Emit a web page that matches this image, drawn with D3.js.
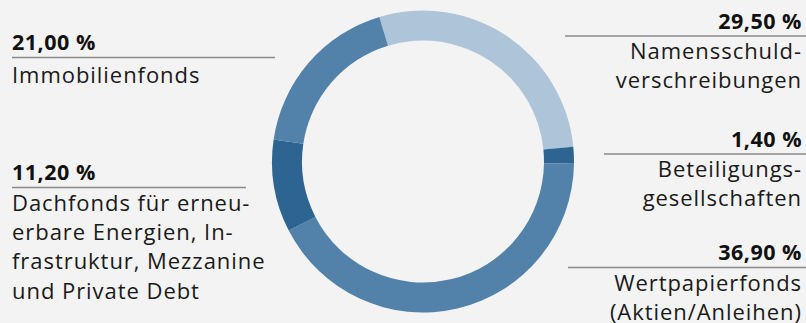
<!DOCTYPE html>
<html>
<head>
<meta charset="utf-8">
<script src="https://cdn.jsdelivr.net/npm/d3@7"></script>
<style>
  html, body { margin: 0; padding: 0; background: #f3f3f3; }
  svg { display: block; }
  .num { font-family: "Open Sans", sans-serif; font-weight: 700; font-size: 21.5px; letter-spacing: 0.5px; fill: #111; }
  .txt { font-family: "Open Sans", sans-serif; font-size: 22px; letter-spacing: 0.95px; fill: #1a1a1a; }
</style>
</head>
<body>
<div id="vis"></div>
<script>
// data
var categories = ["Namensschuldverschreibungen", "Beteiligungsgesellschaften", "Wertpapierfonds",
                  "Dachfonds", "Immobilienfonds"];
var percentLabels = [29.5, 1.4, 36.9, 11.2, 21.0];
// arc sizes as they are drawn in the picture (%)
var arcShares = [28.1, 1.8, 42.2, 9.9, 18.0];
var labelLines = [
    ["Namensschuld-", "verschreibungen"],
    ["Beteiligungs-", "gesellschaften"],
    ["Wertpapierfonds", "(Aktien/Anleihen)"],
    ["Dachfonds für erneu-", "erbare Energien, In-", "frastruktur, Mezzanine", "und Private Debt"],
    ["Immobilienfonds"]
];
var colors = ["#adc4d9", "#2e6491", "#5282a9", "#2e6491", "#5282a9"];

var width = 806, height = 323;
var cx = 423, cy = 161.5, outerR = 151, innerR = 121;

var de = d3.formatLocale({decimal: ",", thousands: ".", grouping: [3], currency: ["", " €"]});
var fmt = de.format(".2f");

var svg = d3.select("#vis").append("svg")
    .attr("width", width)
    .attr("height", height);

var pie = d3.pie()
    .sort(null)
    .value(function(d){ return d; })
    .startAngle(-16.8 * Math.PI / 180)
    .endAngle((360 - 16.8) * Math.PI / 180);

var arc = d3.arc().innerRadius(innerR).outerRadius(outerR);

svg.append("g")
    .attr("transform", "translate(" + cx + "," + cy + ")")
    .selectAll("path")
    .data(pie(arcShares))
    .enter()
    .append("path")
    .attr("d", arc)
    .attr("fill", function(d, i){ return colors[i]; });

// label placement: side, baseline of the number, rule start/end, gap rule -> first line
var layout = [
    {side: "right", y: 28.5, x1: 565, x2: 806, gap: 23},
    {side: "right", y: 146.5, x1: 604, x2: 806, gap: 23},
    {side: "right", y: 260, x1: 568, x2: 806, gap: 23},
    {side: "left", y: 180, x1: 12, x2: 246, gap: 23},
    {side: "left", y: 50, x1: 12, x2: 275, gap: 25.5}
];

var labels = svg.selectAll("g.label")
    .data(categories)
    .enter()
    .append("g")
    .attr("class", "label");

labels.each(function(d, i){
    var g = d3.select(this);
    var L = layout[i];
    var tx = L.side === "right" ? 802 : 12;
    var anchor = L.side === "right" ? "end" : "start";

    g.append("text")
        .attr("class", "num")
        .attr("x", tx)
        .attr("y", L.y)
        .attr("text-anchor", anchor)
        .text(fmt(percentLabels[i]) + " %");

    g.append("line")
        .attr("x1", L.x1).attr("x2", L.x2)
        .attr("y1", L.y + 7.5).attr("y2", L.y + 7.5)
        .attr("stroke", "#8a8a8a")
        .attr("stroke-width", 1.5);

    labelLines[i].forEach(function(line, k){
        g.append("text")
            .attr("class", "txt")
            .attr("x", tx)
            .attr("y", L.y + 7.5 + L.gap + k * 29.4)
            .attr("text-anchor", anchor)
            .text(line);
    });
});
</script>
</body>
</html>
